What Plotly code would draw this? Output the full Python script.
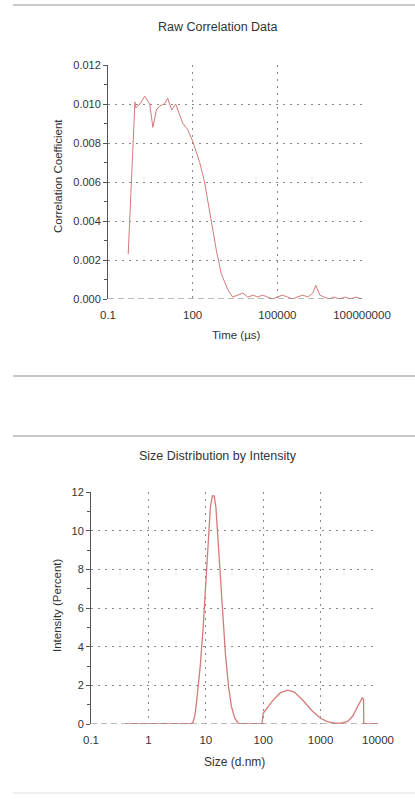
import plotly.graph_objects as go

# ---- Raw correlation data ----
time_us = [0.52, 0.6, 0.76, 0.9, 0.97, 1.35, 2.0, 3.0, 3.9, 5.2, 6.8, 10, 13, 18, 25, 35,
           45, 66, 100, 178, 263, 457, 690, 1030, 1730, 2600, 4000, 6000, 9000, 14000,
           20000, 30000, 45000, 70000, 100000, 150000, 230000, 350000, 500000, 800000,
           1.2e6, 1.8e6, 2.3e6, 2.6e6, 3.2e6, 4.5e6, 7e6, 1e7, 1.6e7, 2.5e7, 4e7, 6e7, 1e8]
corr_coef = [0.0023, 0.0045, 0.0082, 0.0101, 0.0098, 0.0100, 0.0104, 0.0100, 0.0088, 0.0097,
             0.0099, 0.0100, 0.0103, 0.0097, 0.0100, 0.0094, 0.0090, 0.0087, 0.0081, 0.0070,
             0.0060, 0.0040, 0.0025, 0.0013, 0.0005, 0.0001, 0.0002, 0.0003, 0.0001, 0.0002,
             0.0001, 0.0002, 0.0001, 0.0000, 0.0001, 0.0002, 0.0001, 0.0000, 0.0001, 0.0002,
             0.0001, 0.0003, 0.0007, 0.0005, 0.0002, 0.0001, 0.0000, 0.0001, 0.0000, 0.0001,
             0.0000, 0.0001, 0.0000]
time_tickvals = [0.1, 100, 100000, 100000000]
time_ticktext = ["0.1", "100", "100000", "100000000"]
corr_tickvals = [0.000, 0.002, 0.004, 0.006, 0.008, 0.010, 0.012]
corr_ticktext = ["0.000", "0.002", "0.004", "0.006", "0.008", "0.010", "0.012"]

# ---- Size distribution by intensity ----
size_nm = [0.4, 1, 3, 5.5, 6, 6.5, 7, 8, 9, 10, 11, 12, 13, 14, 15, 16, 18, 20, 22, 25, 28,
           32, 36, 40, 50, 70, 95, 100, 120, 150, 200, 270, 350, 500, 700, 1000, 1300, 1800,
           2300, 3000, 3600, 4200, 4800, 5300, 5600, 5650, 7000, 10000]
intensity_pct = [0, 0, 0, 0, 0.1, 0.5, 1.3, 3.0, 5.0, 7.4, 9.8, 11.2, 11.8, 11.8, 11.2, 10.0,
                 7.6, 5.4, 3.6, 1.9, 0.9, 0.3, 0.08, 0, 0, 0, 0, 0.55, 0.85, 1.25, 1.62, 1.75,
                 1.65, 1.2, 0.7, 0.3, 0.12, 0.05, 0.05, 0.15, 0.4, 0.75, 1.1, 1.35, 1.3, 0, 0, 0]
size_tickvals = [0.1, 1, 10, 100, 1000, 10000]
size_ticktext = ["0.1", "1", "10", "100", "1000", "10000"]
int_tickvals = [0, 2, 4, 6, 8, 10, 12]

W, H = 415, 799
FONT = "Liberation Sans, Arial, sans-serif"
TXT = "#333333"
GRID = "#8a8a8a"
LINE = "#d47a7a"

def py(y):
    return 1 - y / H

def px(x):
    return x / W

fig = go.Figure()
fig.add_trace(go.Scatter(x=time_us, y=corr_coef, mode="lines",
                         line=dict(color=LINE, width=1), xaxis="x", yaxis="y",
                         showlegend=False))
fig.add_trace(go.Scatter(x=size_nm, y=intensity_pct, mode="lines",
                         line=dict(color=LINE, width=1.3), xaxis="x2", yaxis="y2",
                         showlegend=False))

common_x = dict(type="log", showgrid=True, gridcolor=GRID, griddash="2px,5px", gridwidth=1,
                showline=False, zeroline=False, ticks="", ticklabelstandoff=7,
                automargin=False,
                tickfont=dict(family=FONT, size=11.5, color=TXT), fixedrange=True)
common_y = dict(showgrid=True, gridcolor=GRID, griddash="2px,5px", gridwidth=1,
                showline=True, linecolor="#555555", linewidth=1, zeroline=False,
                ticks="outside", ticklen=4, tickcolor="#555555", automargin=False,
                tickfont=dict(family=FONT, size=11, color=TXT), fixedrange=True)

fig.update_layout(
    width=W, height=H, autosize=False,
    margin=dict(l=0, r=0, t=0, b=0),
    paper_bgcolor="white", plot_bgcolor="white",
    xaxis=dict(common_x, domain=[px(108), px(362)], range=[-1, 8],
               tickvals=time_tickvals, ticktext=time_ticktext, anchor="y"),
    yaxis=dict(common_y, domain=[py(299), py(65)], range=[0, 0.012],
               tickvals=corr_tickvals, ticktext=corr_ticktext, anchor="x",
               minor=dict(dtick=0.001, ticks="outside", ticklen=3, tickcolor="#555555",
                          showgrid=False)),
    xaxis2=dict(common_x, domain=[px(91), px(378)], range=[-1, 4],
                tickvals=size_tickvals, ticktext=size_ticktext, anchor="y2"),
    yaxis2=dict(common_y, domain=[py(724), py(492)], range=[0, 12],
                tickvals=int_tickvals, anchor="x2",
                minor=dict(dtick=1, ticks="outside", ticklen=3, tickcolor="#555555",
                           showgrid=False)),
)

# separators
shapes = []
for yy in [5, 376, 436]:
    shapes.append(dict(type="line", xref="paper", yref="paper", x0=px(13), x1=1,
                       y0=py(yy), y1=py(yy), line=dict(color="#c8c8c8", width=2)))
shapes.append(dict(type="line", xref="paper", yref="paper", x0=px(13), x1=1,
                   y0=py(793), y1=py(793), line=dict(color="#f0f0f0", width=2)))
# dashed baselines
shapes.append(dict(type="line", xref="x domain", yref="y", x0=0, x1=1, y0=0, y1=0,
                   line=dict(color="#777777", width=1, dash="6px,4px")))
shapes.append(dict(type="line", xref="x2 domain", yref="y2", x0=0, x1=1, y0=0, y1=0,
                   line=dict(color="#777777", width=1, dash="6px,4px")))
fig.update_layout(shapes=shapes)

ann = [
    dict(text="Raw Correlation Data", x=px(218), y=py(27), size=12.5, angle=0),
    dict(text="Time (µs)", x=px(236), y=py(335), size=11.5, angle=0),
    dict(text="Correlation Coefficient", x=px(58), y=py(176), size=11.5, angle=-90),
    dict(text="Size Distribution by Intensity", x=px(218), y=py(456), size=12.5, angle=0),
    dict(text="Size (d.nm)", x=px(234), y=py(762), size=12, angle=0),
    dict(text="Intensity (Percent)", x=px(57), y=py(606), size=11.5, angle=-90),
]
for a in ann:
    fig.add_annotation(text=a["text"], x=a["x"], y=a["y"], xref="paper", yref="paper",
                       xanchor="center", yanchor="middle", showarrow=False,
                       textangle=a["angle"],
                       font=dict(family=FONT, size=a["size"], color=TXT))

fig.write_html("out.html", config={"displayModeBar": False})
